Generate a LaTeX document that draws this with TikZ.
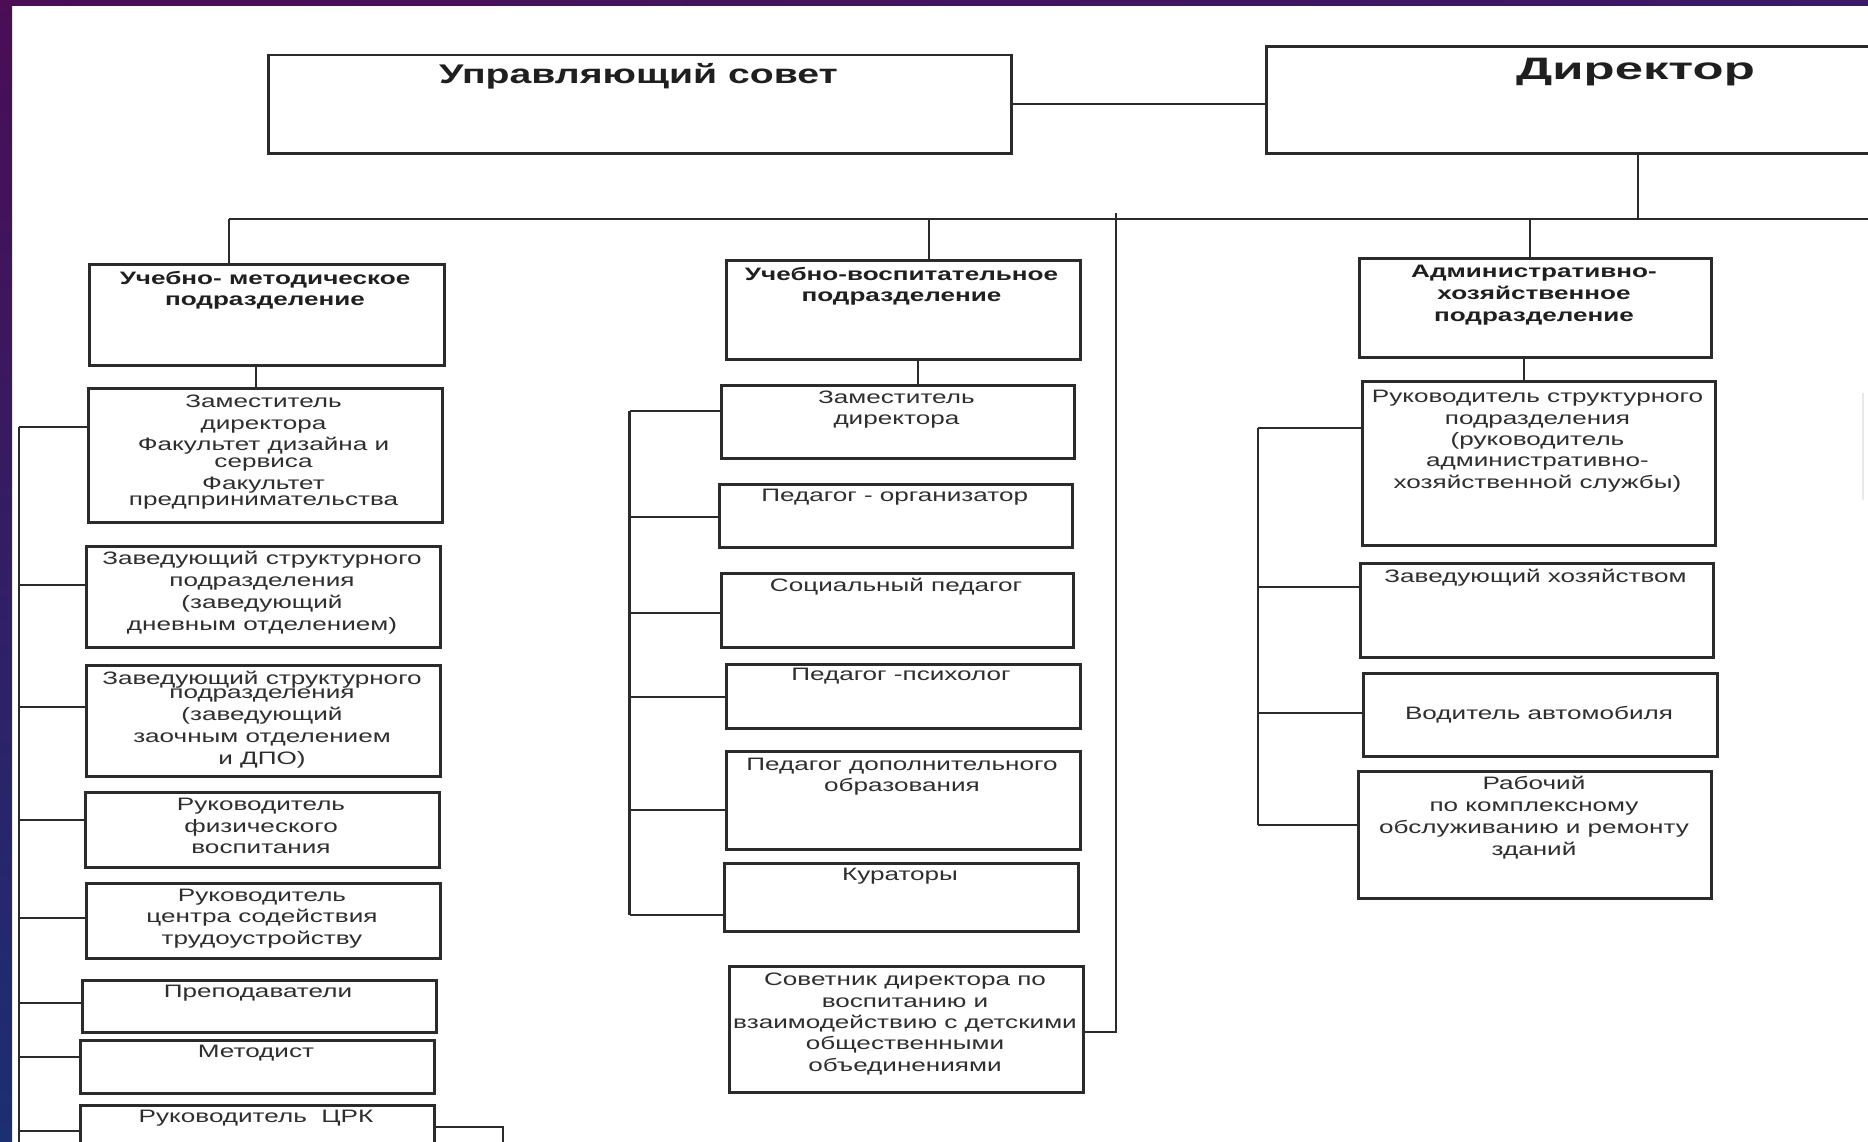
\documentclass[tikz,border=0pt]{standalone}
\usepackage{fontspec}
\setmainfont{Liberation Sans}[FakeStretch=1.45]
\newfontfamily\dirfont{Liberation Sans}[FakeStretch=1.64]
\usetikzlibrary{calc}
\definecolor{boxline}{HTML}{2B2B2B}
\definecolor{textc}{HTML}{2E2E2E}
\definecolor{purp}{HTML}{4A0D56}
\definecolor{purpr}{HTML}{3B1A68}
\definecolor{navy}{HTML}{1B2F72}
\tikzset{
  box/.style={draw=boxline, line width=2.6pt, rectangle, inner sep=0pt, fill=white},
  conn/.style={draw=boxline, line width=2.2pt},
  thinconn/.style={draw=boxline, line width=1.8pt},
  txt/.style={anchor=base, align=center, inner sep=0pt, text=textc, font=\fontsize{18}{21.5}\selectfont},
  hdr/.style={anchor=base, align=center, inner sep=0pt, text=black!88, font=\fontsize{18}{21.5}\selectfont\bfseries},
}
\newcommand\bx[5]{\node[box, anchor=north west, minimum width={(#4-#2)*1pt}, minimum height={(#5-#3)*1pt}] (#1) at (#2,#3) {};}
\newcommand\brL[3]{\path ($(#1.north west)+(0,#2)$) coordinate (#1-c); \draw[conn] (#1-c) -- (#1-c -| #3);}
\begin{document}
\begin{tikzpicture}[x=1pt,y=-1pt]
\clip (0,0) rectangle (1868,1141);
\fill[white] (0,0) rectangle (1868,1141);
% background frame
\shade[left color=purp, right color=purpr] (0,0) rectangle (1868,5);
\shade[top color=purp, bottom color=navy] (0,0) rectangle (12,1141);
\draw[gray!18, line width=2pt] (1863,393) -- (1863,500);

% top boxes
\bx{sovet}{267}{53.5}{1010}{152}
\bx{dir}{1265}{45}{1885}{152}
\node[hdr, font=\fontsize{27}{30}\selectfont\bfseries] (sovet-t) at (638.5,83.5) {Управляющий совет};
\node[hdr, font=\dirfont\fontsize{31}{36}\selectfont\bfseries] (dir-t) at (1635.5,79.5) {Директор};

% left column
\bx{ump}{88}{263}{443}{364}
\bx{lzam}{87}{387}{441}{521}
\bx{zav1}{85}{545}{439}{646}
\bx{zav2}{85}{664}{439}{775}
\bx{fiz}{84}{791}{438}{866}
\bx{czt}{85}{882}{439}{957}
\bx{prep}{81}{979}{435}{1031}
\bx{met}{79}{1039}{433}{1092}
\bx{crk}{79}{1104}{433}{1170}

% middle column
\bx{uvp}{725}{259}{1079}{358}
\bx{mzam}{720}{384}{1073}{457}
\bx{porg}{718}{483}{1071}{546}
\bx{soc}{720}{572}{1072}{646}
\bx{psy}{725}{663}{1079}{727}
\bx{pdo}{725}{750}{1079}{848}
\bx{kur}{723}{862}{1077}{930}
\bx{sov}{728}{965}{1082}{1091}

% right column
\bx{ahp}{1358}{257}{1710}{356}
\bx{rstr}{1361}{380}{1714}{544}
\bx{zavh}{1359}{562}{1712}{656}
\bx{vod}{1362}{672}{1716}{755}
\bx{rab}{1357}{770}{1710}{897}

% coordinates
\coordinate (busL) at (229,219);
\coordinate (busR) at (1885,219);
\coordinate (d2) at (928.6,219);
\coordinate (d3) at (1530,219);
\coordinate (d4) at (1638,219);
\coordinate (k1) at (256,0);
\coordinate (k2) at (918,0);
\coordinate (k3) at (1524,0);
\coordinate (lbt) at (19,426.7);
\coordinate (lbb) at (19,1150);
\coordinate (mbt) at (629.5,410.7);
\coordinate (mbb) at (629.5,915);
\coordinate (rbt) at (1258,427.7);
\coordinate (rbb) at (1258,825);
\coordinate (sv) at (1116,213);
\coordinate (crkend) at (503,1160);

% connectors
\draw[conn] (sovet.east) -- (sovet.east -| dir.west);
\draw[conn] (dir.south -| d4) -- (d4);
\draw[conn] (busL) -- (busR);
\draw[conn] (busL) -- (busL |- ump.north);
\draw[conn] (d2) -- (d2 |- uvp.north);
\draw[conn] (d3) -- (d3 |- ahp.north);
\draw[conn] (ump.south -| k1) -- (lzam.north -| k1);
\draw[conn] (uvp.south -| k2) -- (mzam.north -| k2);
\draw[conn] (ahp.south -| k3) -- (rstr.north -| k3);

\draw[conn] (lbt) -- (lbb);
\brL{lzam}{39.7}{lbt}
\brL{zav1}{40}{lbt}
\brL{zav2}{42.7}{lbt}
\brL{fiz}{29}{lbt}
\brL{czt}{36.3}{lbt}
\brL{prep}{23.7}{lbt}
\brL{met}{18.3}{lbt}
\brL{crk}{27}{lbt}
\path ($(crk.north east)+(0,23)$) coordinate (crk-r);
\draw[conn] (crk-r) -| (crkend);

\draw[conn] (mbt) -- (mbb);
\brL{mzam}{26.7}{mbt}
\brL{porg}{33.7}{mbt}
\brL{soc}{41.3}{mbt}
\brL{psy}{34.3}{mbt}
\brL{pdo}{60}{mbt}
\brL{kur}{53}{mbt}

\path ($(sov.north east)+(0,66.7)$) coordinate (sov-c);
\draw[thinconn] (sv) |- (sov-c);

\draw[conn] (rbt) -- (rbb);
\brL{rstr}{47.7}{rbt}
\brL{zavh}{24.7}{rbt}
\brL{vod}{41.3}{rbt}
\brL{rab}{55}{rbt}

% texts left (anchor = baseline of last line)
\node[hdr, font=\fontsize{18}{21}\selectfont\bfseries] (ump-t) at (265,305) {Учебно- методическое\\подразделение};
\node[txt] (lzam-t) at (263.5,505) {Заместитель\\директора\\Факультет дизайна и\\[-4.5pt]сервиса\\Факультет\\[-5.8pt]предпринимательства};
\node[txt, font=\fontsize{18}{21.7}\selectfont] (zav1-t) at (262,630) {Заведующий структурного\\подразделения\\(заведующий\\дневным отделением)};
\node[txt, font=\fontsize{18}{22}\selectfont] (zav2-t) at (262,764.5) {Заведующий структурного\\[-7.5pt]подразделения\\(заведующий\\заочным отделением\\и ДПО)};
\node[txt, font=\fontsize{18}{21.2}\selectfont] (fiz-t) at (261,853.3) {Руководитель\\физического\\воспитания};
\node[txt] (czt-t) at (262,944) {Руководитель\\центра содействия\\трудоустройству};
\node[txt] (prep-t) at (258,997.7) {Преподаватели};
\node[txt] (met-t) at (256,1057.7) {Методист};
\node[txt] (crk-t) at (256,1122.7) {Руководитель\ \ ЦРК};

% texts middle
\node[hdr, font=\fontsize{18}{21}\selectfont\bfseries] (uvp-t) at (901.5,301) {Учебно-воспитательное\\подразделение};
\node[txt, font=\fontsize{18}{21}\selectfont] (mzam-t) at (896.4,424.3) {Заместитель\\директора};
\node[txt] (porg-t) at (894.7,501.7) {Педагог - организатор};
\node[txt] (soc-t) at (896,591.7) {Социальный педагог};
\node[txt] (psy-t) at (901,680.7) {Педагог -психолог};
\node[txt, font=\fontsize{18}{21.7}\selectfont] (pdo-t) at (902,791.7) {Педагог дополнительного\\образования};
\node[txt] (kur-t) at (900,880.7) {Кураторы};
\node[txt, font=\fontsize{18}{21.3}\selectfont] (sov-t) at (905,1071) {Советник директора по\\воспитанию и\\взаимодействию с детскими\\общественными\\объединениями};

% texts right
\node[hdr, font=\fontsize{18}{21.8}\selectfont\bfseries] (ahp-t) at (1534,321) {Административно-\\хозяйственное\\подразделение};
\node[txt, font=\fontsize{18}{21.4}\selectfont] (rstr-t) at (1537.5,488.3) {Руководитель структурного\\подразделения\\(руководитель\\административно-\\хозяйственной службы)};
\node[txt] (zavh-t) at (1535.5,582.3) {Заведующий хозяйством};
\node[txt] (vod-t) at (1539,719) {Водитель автомобиля};
\node[txt, font=\fontsize{18}{21.7}\selectfont] (rab-t) at (1534,855) {Рабочий\\по комплексному\\обслуживанию и ремонту\\зданий};
\end{tikzpicture}
\end{document}
